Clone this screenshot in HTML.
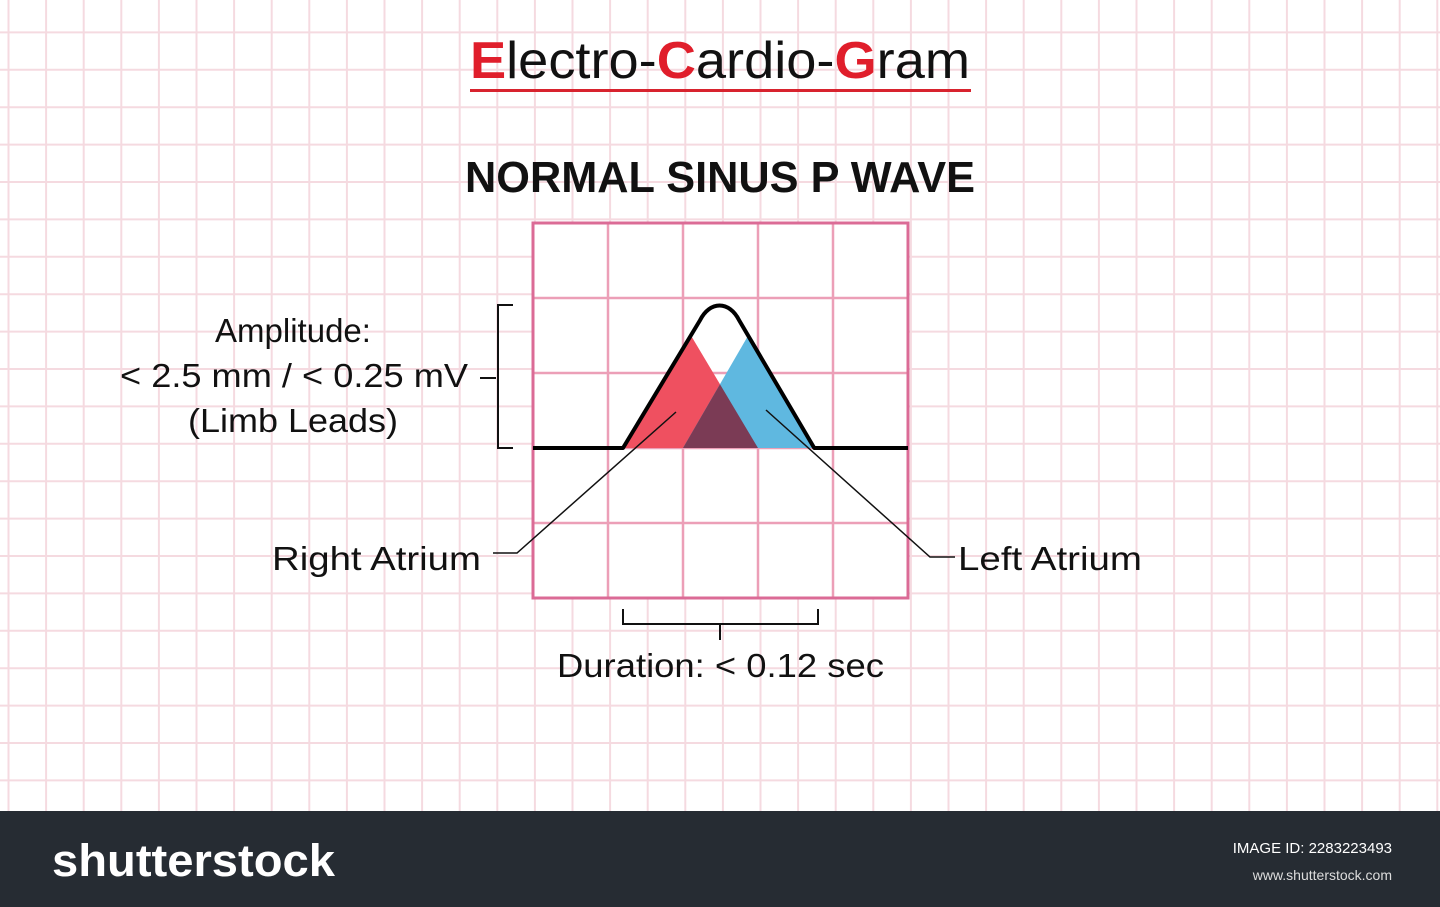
<!DOCTYPE html>
<html><head><meta charset="utf-8"><style>
html,body{margin:0;padding:0;width:1440px;height:907px;overflow:hidden;background:#fff}
svg{display:block;font-family:"Liberation Sans","DejaVu Sans",sans-serif}
</style></head><body>
<svg id="c" width="1440" height="907" viewBox="0 0 1440 907">
<g id="bggrid"></g>
<text x="720" y="78" text-anchor="middle" font-size="52" textLength="500" lengthAdjust="spacingAndGlyphs" fill="#111"><tspan fill="#e01e2b" font-weight="bold">E</tspan>lectro-<tspan fill="#e01e2b" font-weight="bold">C</tspan>ardio-<tspan fill="#e01e2b" font-weight="bold">G</tspan>ram</text>
<rect x="470" y="89" width="501" height="3" fill="#d8232e"/>
<text x="720" y="192" text-anchor="middle" font-size="44" font-weight="bold" textLength="510" lengthAdjust="spacingAndGlyphs" fill="#111">NORMAL SINUS P WAVE</text>
<g id="plot"></g>
<g fill="#111" font-size="33">
<text x="293" y="342" text-anchor="middle">Amplitude:</text>
<text x="294" y="387" text-anchor="middle" textLength="348" lengthAdjust="spacingAndGlyphs">&lt; 2.5 mm / &lt; 0.25 mV</text>
<text x="293" y="432" text-anchor="middle" textLength="210" lengthAdjust="spacingAndGlyphs">(Limb Leads)</text>
<text x="272" y="570" textLength="209" lengthAdjust="spacingAndGlyphs">Right Atrium</text>
<text x="958" y="570" textLength="184" lengthAdjust="spacingAndGlyphs">Left Atrium</text>
<text x="557" y="677" textLength="327" lengthAdjust="spacingAndGlyphs">Duration: &lt; 0.12 sec</text>
</g>
<g stroke="#111" stroke-width="2" fill="none">
<path d="M513 305H498V448H513M480 378H496"/>
<path d="M623 609V624H818V609M720 624V640"/>
<path d="M676 412L517 553H493" stroke-width="1.5"/>
<path d="M766 410L930 557H955" stroke-width="1.5"/>
</g>
<rect x="0" y="811" width="1440" height="96" fill="#262c33"/>
<text x="52" y="876" font-size="45" font-weight="bold" fill="#fff" textLength="283" lengthAdjust="spacingAndGlyphs">shutterstock</text>
<text x="1392" y="853" text-anchor="end" font-size="15" fill="#fff">IMAGE ID: 2283223493</text>
<text x="1392" y="880" text-anchor="end" font-size="14" fill="#ddd">www.shutterstock.com</text>
</svg>
<script>
// P wave data (grid units: 1 cell = 0.04 s horizontally, 1 cell = 0.1 mV vertically)
const cellsX = [0,1,2,3,4,5];
const cellsY = [0,1,2,3,4,5];
const waveTimes = [0, 0.048, 0.089, 0.100, 0.110, 0.150, 0.2];      // s from box left
const waveAmps  = [0, 0, 0.17, 0.19, 0.17, 0, 0];                    // mV
const rightAtrium = [[0.048,0],[0.084,0.151],[0.120,0]];            // [s, mV]
const leftAtrium  = [[0.080,0],[0.115,0.151],[0.150,0]];
const NS='http://www.w3.org/2000/svg';
function mk(tag,attrs,parent){const e=document.createElementNS(NS,tag);for(const k in attrs)e.setAttribute(k,attrs[k]);parent.appendChild(e);return e;}
const bg=document.getElementById('bggrid');
for(let x=8.5;x<1440;x+=37.6){const l=mk('line',{x1:x,y1:0,x2:x,y2:811,stroke:'#f5dae0','stroke-width':2},bg);

}
for(let y=-5;y<811;y+=37.4){const l=mk('line',{x1:0,y1:y,x2:1440,y2:y,stroke:'#f5dae0','stroke-width':2},bg);

}
const X0=533,Y0=448,CELL=75;
const sx=t=>X0+t/0.04*CELL;
const sy=v=>Y0-v/0.1*CELL;
const plot=document.getElementById('plot');
const box=mk('rect',{x:533,y:223,width:375,height:375,fill:'#fff'},plot);


cellsX.slice(1,-1).forEach(i=>{const l=mk('line',{x1:X0+i*CELL,y1:223,x2:X0+i*CELL,y2:598,stroke:'#ec9fb7','stroke-width':2.5},plot);

});
cellsY.slice(1,-1).forEach(i=>{const l=mk('line',{x1:533,y1:223+i*CELL,x2:908,y2:223+i*CELL,stroke:'#ec9fb7','stroke-width':2.5},plot);

});
const bd=mk('rect',{x:533,y:223,width:375,height:375,fill:'none',stroke:'#db6b96','stroke-width':3},plot);


const pt=q=>[sx(q[0]),sy(q[1])];
const tri=(pts,fill,name)=>{const p=mk('polygon',{points:pts.map(q=>pt(q).join(',')).join(' '),fill:fill},plot);

};
tri(rightAtrium,'#ef5060','right-atrium-triangle');
tri(leftAtrium,'#5fb8e0','left-atrium-triangle');
// overlap region: red right edge vs blue left edge
const a=pt(rightAtrium[1]),b=pt(rightAtrium[2]),c=pt(leftAtrium[0]),e=pt(leftAtrium[1]);
const den=(a[0]-b[0])*(c[1]-e[1])-(a[1]-b[1])*(c[0]-e[0]);
const tt=((a[0]-c[0])*(c[1]-e[1])-(a[1]-c[1])*(c[0]-e[0]))/den;
const ix=a[0]+tt*(b[0]-a[0]),iy=a[1]+tt*(b[1]-a[1]);
const ov=mk('polygon',{points:[c.join(','),ix+','+iy,b.join(',')].join(' '),fill:'#7b3b55'},plot);


const P=i=>[sx(waveTimes[i]),sy(waveAmps[i])];
const ctrlY=sy(waveAmps[3])-5;
let d='M'+P(0)+' L'+P(1)+' L'+P(2)+' C'+(P(2)[0]+10)+','+ctrlY+' '+(P(4)[0]-10)+','+ctrlY+' '+P(4)+' L'+P(5)+' L'+P(6);
const w=mk('path',{d:d,fill:'none',stroke:'#000','stroke-width':4,'stroke-linejoin':'round'},plot);


</script>
</body></html>
